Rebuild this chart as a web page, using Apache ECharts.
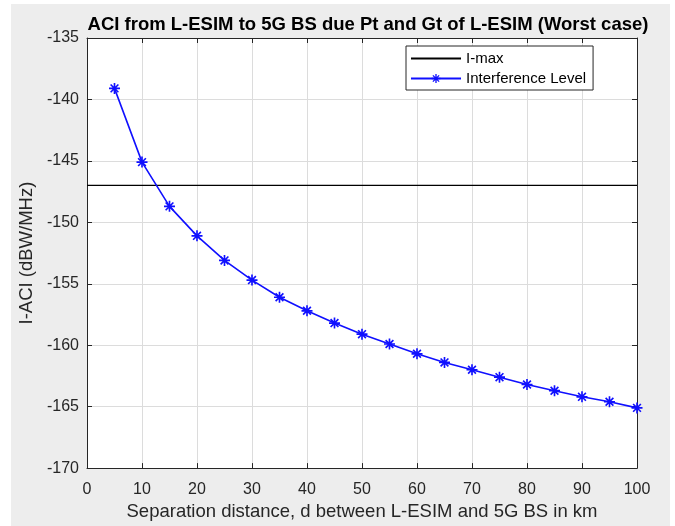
<!DOCTYPE html>
<html>
<head>
<meta charset="utf-8">
<script src="https://cdn.jsdelivr.net/npm/echarts@6/dist/echarts.min.js"></script>
<style>
  html, body { margin: 0; padding: 0; background: #ffffff; }
  #chart { width: 675px; height: 526px; }
</style>
</head>
<body>
<div id="chart"></div>
<script>
// Separation distance (km)
const distances = [5, 10, 15, 20, 25, 30, 35, 40, 45, 50, 55, 60, 65, 70, 75, 80, 85, 90, 95, 100];
// Adjacent-channel interference level (dBW/MHz)
const interference = [-139.1, -145.1, -148.7, -151.1, -153.1, -154.7, -156.1, -157.2, -158.2, -159.1,
                      -159.9, -160.7, -161.4, -162.0, -162.6, -163.2, -163.7, -164.2, -164.6, -165.1];
// Interference threshold
const iMaxLevel = -147;
const iMaxRange = [0, 100];
const xTicks = [0, 100, 10];
const yTicks = [-170, -135, 5];

// Asterisk marker: vertical, horizontal and two diagonal bars
const asterisk = 'path://M-1.5,-10L1.5,-10L1.5,10L-1.5,10Z' +
  'M-10,-1.5L10,-1.5L10,1.5L-10,1.5Z' +
  'M-6.01,-8.13L8.13,6.01L6.01,8.13L-8.13,-6.01Z' +
  'M-8.13,6.01L6.01,-8.13L8.13,-6.01L-6.01,8.13Z';

const font = 'Liberation Sans, Arial, Helvetica, sans-serif';
const axisColor = '#262626';
const gridColor = '#dcdcdc';
const blue = '#1010ff';

const chart = echarts.init(document.getElementById('chart'), null, { renderer: 'canvas' });

const G = { left: 87, top: 38, right: 38, bottom: 55 };

const baseX = {
  type: 'value', min: xTicks[0], max: xTicks[1], interval: xTicks[2],
  axisLine: { show: true, onZero: false, lineStyle: { color: axisColor, width: 1 } },
  axisTick: { show: true, inside: true, length: 5, lineStyle: { color: axisColor } },
};
const baseY = {
  type: 'value', min: yTicks[0], max: yTicks[1], interval: yTicks[2],
  axisLine: { show: true, onZero: false, lineStyle: { color: axisColor, width: 1 } },
  axisTick: { show: true, inside: true, length: 5, lineStyle: { color: axisColor } },
};

chart.setOption({
  backgroundColor: '#ffffff',
  animation: false,
  graphic: [{
    type: 'rect', z: -10, silent: true,
    shape: { x: 11, y: 4, width: 659, height: 522 },
    style: { fill: '#ededed' }
  }],
  title: {
    text: 'ACI from L-ESIM to 5G BS due Pt and Gt of L-ESIM (Worst case)',
    left: 363, top: 10, textAlign: 'center',
    textStyle: { fontFamily: font, fontSize: 18.5, fontWeight: 'bold', color: '#000000' }
  },
  legend: {
    orient: 'vertical', left: 406, top: 46,
    backgroundColor: '#ffffff', borderColor: axisColor, borderWidth: 1,
    padding: [5, 7, 4, 4], itemGap: 5, itemWidth: 50, itemHeight: 11,
    textStyle: { fontFamily: font, fontSize: 15, color: '#000000' },
    data: [
      { name: 'I-max', itemStyle: { color: 'rgba(0,0,0,0)', borderWidth: 0 } },
      { name: 'Interference Level' }
    ]
  },
  grid: { left: G.left, top: G.top, right: G.right, bottom: G.bottom, show: true,
          backgroundColor: '#ffffff', borderWidth: 0 },
  xAxis: [
    Object.assign({}, baseX, {
      position: 'bottom',
      name: 'Separation distance, d between L-ESIM and 5G BS in km',
      nameLocation: 'middle', nameGap: 33,
      nameTextStyle: { fontFamily: font, fontSize: 18.5, color: '#262626' },
      axisLabel: { fontFamily: font, fontSize: 16, color: '#262626', margin: 13 },
      splitLine: { show: true, lineStyle: { color: gridColor, width: 1 } }
    }),
    Object.assign({}, baseX, {
      position: 'top', axisLabel: { show: false }, splitLine: { show: false }
    })
  ],
  yAxis: [
    Object.assign({}, baseY, {
      position: 'left',
      name: 'I-ACI (dBW/MHz)',
      nameLocation: 'middle', nameGap: 48,
      nameTextStyle: { fontFamily: font, fontSize: 18.5, color: '#262626' },
      axisLabel: { fontFamily: font, fontSize: 16, color: '#262626', margin: 8 },
      splitLine: { show: true, lineStyle: { color: gridColor, width: 1 } }
    }),
    Object.assign({}, baseY, {
      position: 'right', axisLabel: { show: false }, splitLine: { show: false }
    })
  ],
  series: [
    {
      name: 'I-max', type: 'line', xAxisIndex: 0, yAxisIndex: 0,
      data: iMaxRange.map(x => [x, iMaxLevel]),
      showSymbol: false, symbol: 'none',
      lineStyle: { color: '#000000', width: 1.2 },
      itemStyle: { color: '#000000' },
      z: 3
    },
    {
      name: 'Interference Level', type: 'line', xAxisIndex: 0, yAxisIndex: 0,
      data: distances.map((d, i) => [d, interference[i]]),
      symbol: asterisk, symbolSize: 11, showSymbol: true,
      lineStyle: { color: blue, width: 1.6 },
      itemStyle: { color: blue },
      z: 4
    }
  ]
});
</script>
</body>
</html>
